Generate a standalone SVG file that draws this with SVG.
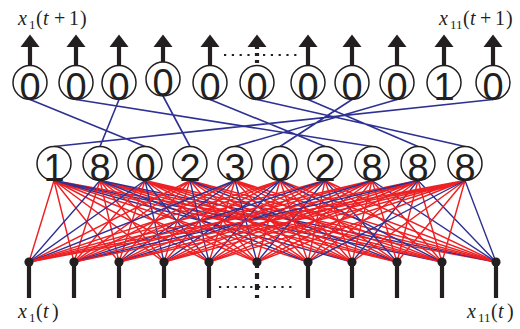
<svg xmlns="http://www.w3.org/2000/svg" xmlns:xlink="http://www.w3.org/1999/xlink" width="520" height="329" viewBox="0 0 520 329">
<style>
.nd{fill:#fff;stroke:#231f20;stroke-width:1.5}
.dg{font-family:"Liberation Sans",Arial,sans-serif;font-size:38px;fill:#231f20;text-anchor:middle}
.lb{font-family:"Liberation Serif","Times New Roman",serif;font-size:20px;fill:#231f20}
.sb{font-size:13px}
.it{font-style:italic}
.r{fill:none;stroke:#ed2024;stroke-width:1.45}
.b{fill:none;stroke:#2e3192;stroke-width:1.4}
.tb{fill:none;stroke:#2e3192;stroke-width:1.6}
.stem{stroke:#231f20;stroke-width:4.2}
.dots{stroke:#231f20;stroke-width:2.2;stroke-dasharray:2.2 5.6}
.dot{fill:#231f20}
</style>
<defs>
<polygon id="head" points="-9.5,47 0,34.5 9.5,47" fill="#231f20"/>
</defs>

<g id="connectors">
<path class="tb" d="M30 99.5L145 146.5M76 99.5L372 146.5M119 99.5L100 146.5M163 96L190 146.5M210 99.5L325 146.5M257 99.5L465 146.5M308 99.5L418 146.5M352 99.5L280 146.5M397 99.5L235 146.5M493 99.5L54 146.5"/>
<path class="r" d="M54 180.5L29 262M54 180.5L74 262M54 180.5L119 262M54 180.5L164 262M54 180.5L209 262M54 180.5L257 262M54 180.5L308 262M54 180.5L397 262M54 180.5L496 262"/>
<path class="b" d="M54 180.5L352 262M54 180.5L442 262"/>
<path class="r" d="M100 180.5L74 262M100 180.5L119 262M100 180.5L164 262M100 180.5L209 262M100 180.5L257 262M100 180.5L352 262M100 180.5L397 262M100 180.5L442 262"/>
<path class="b" d="M100 180.5L29 262M100 180.5L308 262M100 180.5L496 262"/>
<path class="r" d="M145 180.5L74 262M145 180.5L119 262M145 180.5L257 262M145 180.5L308 262M145 180.5L352 262M145 180.5L397 262M145 180.5L442 262M145 180.5L496 262"/>
<path class="b" d="M145 180.5L29 262M145 180.5L164 262M145 180.5L209 262"/>
<path class="r" d="M190 180.5L29 262M190 180.5L74 262M190 180.5L119 262M190 180.5L164 262M190 180.5L257 262M190 180.5L308 262M190 180.5L352 262M190 180.5L442 262M190 180.5L496 262"/>
<path class="b" d="M190 180.5L209 262M190 180.5L397 262"/>
<path class="r" d="M235 180.5L74 262M235 180.5L164 262M235 180.5L209 262M235 180.5L308 262M235 180.5L352 262M235 180.5L397 262M235 180.5L442 262M235 180.5L496 262"/>
<path class="b" d="M235 180.5L29 262M235 180.5L119 262M235 180.5L257 262"/>
<path class="r" d="M280 180.5L29 262M280 180.5L74 262M280 180.5L119 262M280 180.5L257 262M280 180.5L308 262M280 180.5L352 262M280 180.5L397 262M280 180.5L496 262"/>
<path class="b" d="M280 180.5L164 262M280 180.5L209 262M280 180.5L442 262"/>
<path class="r" d="M325 180.5L29 262M325 180.5L119 262M325 180.5L164 262M325 180.5L209 262M325 180.5L308 262M325 180.5L352 262M325 180.5L442 262M325 180.5L496 262"/>
<path class="b" d="M325 180.5L74 262M325 180.5L257 262M325 180.5L397 262"/>
<path class="r" d="M372 180.5L29 262M372 180.5L74 262M372 180.5L164 262M372 180.5L209 262M372 180.5L257 262M372 180.5L308 262M372 180.5L352 262M372 180.5L397 262M372 180.5L442 262"/>
<path class="b" d="M372 180.5L119 262M372 180.5L496 262"/>
<path class="r" d="M418 180.5L29 262M418 180.5L119 262M418 180.5L164 262M418 180.5L209 262M418 180.5L257 262M418 180.5L308 262M418 180.5L397 262M418 180.5L442 262"/>
<path class="b" d="M418 180.5L74 262M418 180.5L352 262M418 180.5L496 262"/>
<path class="r" d="M465 180.5L29 262M465 180.5L74 262M465 180.5L119 262M465 180.5L164 262M465 180.5L209 262M465 180.5L257 262M465 180.5L352 262M465 180.5L397 262M465 180.5L442 262"/>
<path class="b" d="M465 180.5L308 262M465 180.5L496 262"/>
</g>

<g id="outputs">
<g id="o1"><line class="stem" x1="30" y1="46" x2="30" y2="65.5"/><use xlink:href="#head" x="30"/><circle class="nd" cx="30" cy="82.5" r="17"/><text class="dg" x="30" y="99.5">0</text></g>
<g id="o2"><line class="stem" x1="76" y1="46" x2="76" y2="65.5"/><use xlink:href="#head" x="76"/><circle class="nd" cx="76" cy="82.5" r="17"/><text class="dg" x="76" y="99.5">0</text></g>
<g id="o3"><line class="stem" x1="119" y1="46" x2="119" y2="65.5"/><use xlink:href="#head" x="119"/><circle class="nd" cx="119" cy="82.5" r="17"/><text class="dg" x="119" y="99.5">0</text></g>
<g id="o4"><line class="stem" x1="163" y1="46" x2="163" y2="62"/><use xlink:href="#head" x="163"/><circle class="nd" cx="163" cy="79" r="17"/><text class="dg" x="163" y="96">0</text></g>
<g id="o5"><line class="stem" x1="210" y1="46" x2="210" y2="65.5"/><use xlink:href="#head" x="210"/><circle class="nd" cx="210" cy="82.5" r="17"/><text class="dg" x="210" y="99.5">0</text></g>
<g id="o6"><line class="stem" x1="257" y1="46" x2="257" y2="65.5" stroke-dasharray="3 4"/><use xlink:href="#head" x="257"/><circle class="nd" cx="257" cy="82.5" r="17"/><text class="dg" x="257" y="99.5">0</text></g>
<g id="o7"><line class="stem" x1="308" y1="46" x2="308" y2="65.5"/><use xlink:href="#head" x="308"/><circle class="nd" cx="308" cy="82.5" r="17"/><text class="dg" x="308" y="99.5">0</text></g>
<g id="o8"><line class="stem" x1="352" y1="46" x2="352" y2="65.5"/><use xlink:href="#head" x="352"/><circle class="nd" cx="352" cy="82.5" r="17"/><text class="dg" x="352" y="99.5">0</text></g>
<g id="o9"><line class="stem" x1="397" y1="46" x2="397" y2="65.5"/><use xlink:href="#head" x="397"/><circle class="nd" cx="397" cy="82.5" r="17"/><text class="dg" x="397" y="99.5">0</text></g>
<g id="o10"><line class="stem" x1="444" y1="46" x2="444" y2="65.5"/><use xlink:href="#head" x="444"/><circle class="nd" cx="444" cy="82.5" r="17"/><text class="dg" x="444" y="99.5">1</text></g>
<g id="o11"><line class="stem" x1="493" y1="46" x2="493" y2="65.5"/><use xlink:href="#head" x="493"/><circle class="nd" cx="493" cy="82.5" r="17"/><text class="dg" x="493" y="99.5">0</text></g>
<line class="dots" x1="224" y1="55" x2="298" y2="55"/>
</g>

<g id="hidden">
<g id="h1"><circle class="nd" cx="54" cy="163.5" r="17"/><text class="dg" x="54" y="180.5">1</text></g>
<g id="h2"><circle class="nd" cx="100" cy="163.5" r="17"/><text class="dg" x="100" y="180.5">8</text></g>
<g id="h3"><circle class="nd" cx="145" cy="163.5" r="17"/><text class="dg" x="145" y="180.5">0</text></g>
<g id="h4"><circle class="nd" cx="190" cy="163.5" r="17"/><text class="dg" x="190" y="180.5">2</text></g>
<g id="h5"><circle class="nd" cx="235" cy="163.5" r="17"/><text class="dg" x="235" y="180.5">3</text></g>
<g id="h6"><circle class="nd" cx="280" cy="163.5" r="17"/><text class="dg" x="280" y="180.5">0</text></g>
<g id="h7"><circle class="nd" cx="325" cy="163.5" r="17"/><text class="dg" x="325" y="180.5">2</text></g>
<g id="h8"><circle class="nd" cx="372" cy="163.5" r="17"/><text class="dg" x="372" y="180.5">8</text></g>
<g id="h9"><circle class="nd" cx="418" cy="163.5" r="17"/><text class="dg" x="418" y="180.5">8</text></g>
<g id="h10"><circle class="nd" cx="465" cy="163.5" r="17"/><text class="dg" x="465" y="180.5">8</text></g>
</g>

<g id="inputs">
<g id="i1"><line class="stem" x1="29" y1="262" x2="29" y2="298"/><circle class="dot" cx="29" cy="262" r="4.6"/></g>
<g id="i2"><line class="stem" x1="74" y1="262" x2="74" y2="298"/><circle class="dot" cx="74" cy="262" r="4.6"/></g>
<g id="i3"><line class="stem" x1="119" y1="262" x2="119" y2="298"/><circle class="dot" cx="119" cy="262" r="4.6"/></g>
<g id="i4"><line class="stem" x1="164" y1="262" x2="164" y2="298"/><circle class="dot" cx="164" cy="262" r="4.6"/></g>
<g id="i5"><line class="stem" x1="209" y1="262" x2="209" y2="298"/><circle class="dot" cx="209" cy="262" r="4.6"/></g>
<g id="i6"><line class="stem" x1="257" y1="262" x2="257" y2="298" stroke-dasharray="6 5"/><circle class="dot" cx="257" cy="262" r="4.6"/></g>
<g id="i7"><line class="stem" x1="308" y1="262" x2="308" y2="298"/><circle class="dot" cx="308" cy="262" r="4.6"/></g>
<g id="i8"><line class="stem" x1="352" y1="262" x2="352" y2="298"/><circle class="dot" cx="352" cy="262" r="4.6"/></g>
<g id="i9"><line class="stem" x1="397" y1="262" x2="397" y2="298"/><circle class="dot" cx="397" cy="262" r="4.6"/></g>
<g id="i10"><line class="stem" x1="442" y1="262" x2="442" y2="298"/><circle class="dot" cx="442" cy="262" r="4.6"/></g>
<g id="i11"><line class="stem" x1="496" y1="262" x2="496" y2="298"/><circle class="dot" cx="496" cy="262" r="4.6"/></g>
<line class="dots" x1="219" y1="287" x2="292" y2="287"/>
</g>

<g id="labels">
<text class="lb" y="25"><tspan class="it" x="18">x</tspan><tspan class="sb" x="29" dy="4">1</tspan><tspan x="36" dy="-4">(</tspan><tspan class="it" x="43">t</tspan><tspan x="54">+</tspan><tspan x="69">1</tspan><tspan x="80">)</tspan></text>
<text class="lb" y="25"><tspan class="it" x="439">x</tspan><tspan class="sb" x="450" dy="4">11</tspan><tspan x="463" dy="-4">(</tspan><tspan class="it" x="470">t</tspan><tspan x="480">+</tspan><tspan x="495">1</tspan><tspan x="506">)</tspan></text>
<text class="lb" y="318"><tspan class="it" x="18">x</tspan><tspan class="sb" x="29" dy="4">1</tspan><tspan x="36" dy="-4">(</tspan><tspan class="it" x="43">t</tspan><tspan x="52">)</tspan></text>
<text class="lb" y="318"><tspan class="it" x="467">x</tspan><tspan class="sb" x="478" dy="4">11</tspan><tspan x="491" dy="-4">(</tspan><tspan class="it" x="498">t</tspan><tspan x="507">)</tspan></text>
</g>
</svg>
